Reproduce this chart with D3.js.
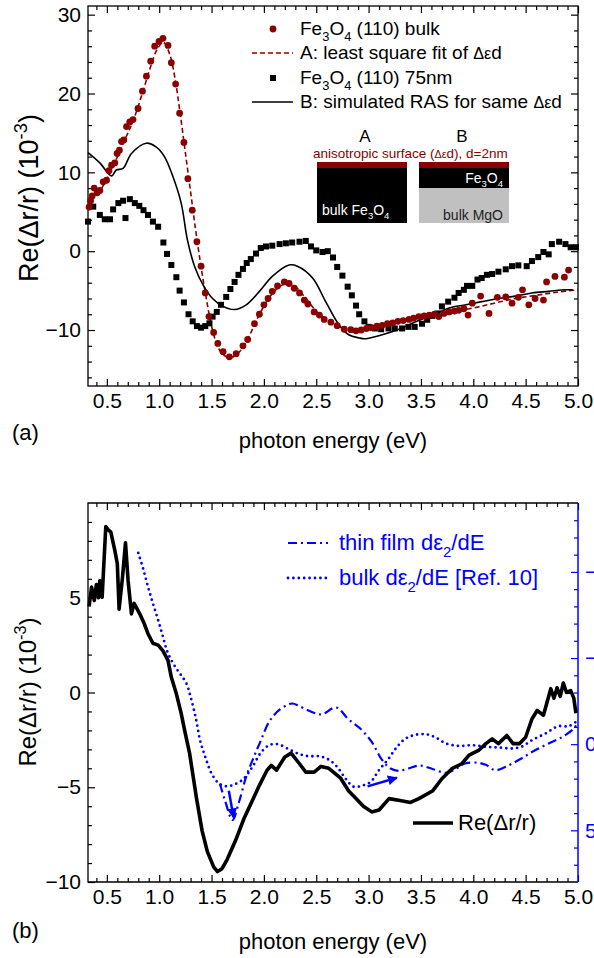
<!DOCTYPE html>
<html>
<head>
<meta charset="utf-8">
<script src="https://cdn.jsdelivr.net/npm/d3@7"></script>
<style>
body { margin: 0; background: #fff; }
svg { display: block; font-family: "Liberation Sans", Arial, sans-serif; }
</style>
</head>
<body>
<script>
// ---- panel (a) data: photon energy (eV) / Re(dr/r) (1e-3)
const bulkE = [0.33,0.345,0.36,0.379,0.408,0.433,0.465,0.497,0.52,0.545,0.576,0.598,0.62,0.64,0.662,0.688,0.719,0.75,0.798,0.84,0.878,0.919,0.957,0.998,1.036,1.084,1.116,1.157,1.195,1.236,1.274,1.316,1.36,1.40,1.44,1.475,1.52,1.56,1.61,1.67,1.735,1.80,1.845,1.91,1.957,2.0,2.04,2.08,2.13,2.195,2.24,2.29,2.34,2.386,2.42,2.48,2.53,2.576,2.64,2.70,2.767,2.83,2.88,2.93,2.98,3.03,3.08,3.13,3.18,3.23,3.28,3.33,3.386,3.43,3.48,3.53,3.58,3.63,3.67,3.72,3.77,3.82,3.86,3.91,3.95,3.99,4.07,4.15,4.23,4.31,4.37,4.43,4.47,4.53,4.59,4.67,4.70,4.78,4.87,4.91];
const bulkR = [5.6,6.4,7.0,8.0,7.4,7.7,8.8,9.0,10.2,10.9,11.2,12.4,12.8,13.9,14.1,15.8,16.4,16.7,18.1,20.3,22.2,24.1,26.0,26.6,27.0,26.1,23.9,21.2,17.5,13.8,9.2,5.2,1.2,-1.9,-5.3,-8.3,-10.3,-11.7,-12.75,-13.4,-13.0,-12.0,-11.2,-9.2,-8.0,-6.8,-6.0,-5.1,-4.4,-3.9,-4.1,-4.7,-5.3,-6.2,-6.7,-7.7,-8.1,-8.65,-9.0,-9.45,-9.9,-9.95,-10.1,-10.0,-9.8,-9.7,-9.5,-9.4,-9.2,-9.1,-8.9,-8.8,-8.65,-8.5,-8.3,-8.2,-8.1,-8.0,-8.3,-7.9,-7.7,-7.6,-7.5,-7.3,-8.1,-6.6,-5.7,-7.9,-5.85,-5.8,-6.6,-5.85,-4.9,-6.8,-6.0,-6.2,-3.9,-3.2,-3.3,-2.4];

const fitE = [0.35,0.45,0.55,0.65,0.75,0.85,0.92,0.98,1.04,1.1,1.15,1.2,1.25,1.3,1.35,1.4,1.45,1.5,1.55,1.6,1.67,1.75,1.85,1.95,2.05,2.15,2.22,2.3,2.4,2.5,2.6,2.7,2.8,2.9,3.0,3.2,3.4,3.6,3.8,4.0,4.2,4.4,4.6,4.8,5.0];
const fitR = [6.5,8.0,10.5,13.5,16.5,20.5,23.5,25.6,26.5,25.0,22.0,17.5,12.5,7.5,2.5,-2.0,-6.0,-9.5,-11.8,-13.0,-13.5,-13.0,-11.0,-8.2,-5.9,-4.5,-4.1,-4.5,-6.0,-7.6,-8.7,-9.5,-10.1,-10.3,-10.0,-9.3,-8.7,-8.2,-7.7,-7.2,-6.6,-6.0,-5.6,-5.2,-4.9];

const filmE = [0.32,0.37,0.433,0.48,0.53,0.56,0.61,0.655,0.678,0.72,0.767,0.81,0.85,0.893,0.94,0.99,1.04,1.075,1.116,1.164,1.195,1.236,1.28,1.32,1.36,1.40,1.44,1.48,1.51,1.55,1.59,1.64,1.68,1.72,1.757,1.80,1.836,1.875,1.925,1.97,2.02,2.08,2.15,2.21,2.27,2.34,2.40,2.45,2.50,2.56,2.61,2.66,2.70,2.75,2.80,2.84,2.88,2.91,2.96,3.0,3.06,3.12,3.19,3.25,3.32,3.38,3.44,3.51,3.56,3.61,3.66,3.70,3.76,3.82,3.86,3.91,3.94,3.99,4.04,4.08,4.13,4.18,4.24,4.31,4.37,4.43,4.51,4.56,4.62,4.67,4.72,4.75,4.82,4.88,4.93,4.98];
const filmR = [3.75,5.65,4.6,4.05,4.05,5.3,6.1,6.4,4.2,6.6,6.1,5.75,5.2,4.6,3.75,3.1,1.1,-0.35,-1.75,-3.3,-5.0,-6.5,-8.0,-8.9,-9.5,-9.7,-9.5,-9.15,-8.3,-7.7,-6.8,-5.8,-4.8,-3.9,-3.0,-2.25,-1.5,-1.0,-0.3,0.4,0.6,0.7,0.9,1.0,1.1,1.2,1.3,0.6,0.1,-0.1,0.0,-0.8,-2.0,-3.1,-4.5,-5.6,-6.9,-8.0,-8.9,-9.6,-9.8,-9.9,-9.8,-9.8,-9.8,-9.6,-9.6,-9.2,-8.7,-8.2,-7.9,-7.0,-6.4,-5.9,-5.3,-4.9,-4.4,-4.4,-3.6,-3.4,-3.0,-2.9,-2.6,-2.3,-1.9,-1.8,-1.9,-1.25,-0.75,-0.1,-0.4,0.9,1.2,0.9,0.5,0.5];

const simE = [0.32,0.433,0.545,0.59,0.655,0.735,0.878,0.973,1.05,1.13,1.21,1.27,1.34,1.42,1.51,1.61,1.72,1.83,1.957,2.08,2.24,2.32,2.465,2.59,2.72,2.81,2.91,2.97,3.13,3.29,3.45,3.61,3.77,3.93,4.08,4.24,4.40,4.56,4.72,4.88,4.95];
const simR = [12.5,11.2,9.55,10.3,10.5,12.4,13.7,13.2,12.0,9.5,6.1,1.4,-2.0,-4.3,-6.0,-7.0,-7.4,-6.8,-5.1,-3.2,-1.75,-1.9,-3.4,-6.4,-9.4,-10.6,-11.0,-11.1,-10.6,-9.9,-8.95,-8.1,-7.2,-6.8,-6.4,-6.0,-5.7,-5.3,-5.1,-4.9,-4.9];

// ---- panel (b) data
const rasE = [0.33,0.354,0.38,0.40,0.42,0.433,0.455,0.49,0.51,0.538,0.576,0.60,0.617,0.65,0.678,0.703,0.735,0.76,0.79,0.814,0.86,0.893,0.94,0.99,1.036,1.084,1.116,1.164,1.21,1.243,1.29,1.354,1.41,1.46,1.52,1.557,1.6,1.65,1.73,1.81,1.89,1.957,2.03,2.07,2.12,2.2,2.26,2.34,2.40,2.48,2.545,2.62,2.73,2.81,2.88,2.95,3.03,3.1,3.195,3.3,3.4,3.48,3.61,3.70,3.80,3.89,3.96,4.05,4.12,4.18,4.24,4.32,4.38,4.44,4.50,4.56,4.61,4.67,4.74,4.77,4.80,4.83,4.86,4.89,4.93,4.96,4.98];
const rasR = [4.54,5.56,4.85,5.7,5.0,5.9,5.03,8.76,8.6,8.46,7.5,6.8,4.4,6.1,7.9,5.9,4.15,4.7,4.4,4.15,3.6,3.1,2.6,2.5,2.2,1.7,0.8,-0.07,-1.1,-2.0,-3.2,-5.5,-7.3,-8.4,-9.2,-9.45,-9.3,-8.8,-7.8,-6.65,-5.7,-4.9,-4.1,-3.85,-4.1,-3.4,-3.2,-3.76,-4.2,-4.2,-3.9,-4.0,-4.5,-5.2,-5.6,-6.0,-6.3,-6.2,-5.6,-5.7,-5.8,-5.6,-5.2,-4.55,-4.0,-3.76,-3.3,-3.06,-2.7,-2.45,-2.7,-2.27,-2.7,-2.7,-2.36,-1.4,-0.95,-1.2,0.2,-0.3,0.25,-0.2,0.5,0.0,0.1,-0.3,-1.1];

const bulkDE = [0.80,0.846,0.893,0.94,0.99,1.036,1.078,1.116,1.164,1.21,1.26,1.30,1.35,1.39,1.44,1.5,1.57,1.64,1.70,1.80,1.89,1.97,2.05,2.13,2.24,2.34,2.43,2.53,2.62,2.70,2.78,2.86,2.94,3.02,3.1,3.18,3.26,3.34,3.43,3.545,3.64,3.74,3.86,3.99,4.12,4.24,4.37,4.46,4.56,4.69,4.81,4.91,4.98];
const bulkDV = [-11.1,-10.2,-9.13,-8.17,-7.2,-6.23,-5.36,-4.88,-4.39,-4.0,-3.52,-2.75,-1.5,-0.23,0.74,1.7,2.28,2.44,2.38,2.05,1.32,0.5,0.06,0.0,0.3,0.58,0.7,0.7,0.9,1.32,2.0,2.48,2.4,2.19,1.5,0.93,0.25,-0.27,-0.52,-0.58,-0.39,-0.04,0.1,0.06,0.15,0.19,0.25,0.15,-0.23,-0.62,-1.04,-1.04,-1.3];

const thinDE = [1.58,1.63,1.70,1.76,1.83,1.90,1.97,2.05,2.15,2.27,2.34,2.5,2.56,2.69,2.81,2.92,3.03,3.13,3.21,3.29,3.38,3.49,3.61,3.74,3.84,3.92,4.05,4.12,4.21,4.34,4.46,4.59,4.72,4.85,4.96,5.0];
const thinDV = [2.3,3.3,4.4,3.4,1.9,0.8,-0.2,-1.3,-2.0,-2.36,-2.2,-1.78,-1.74,-2.13,-1.43,-0.91,-0.13,0.93,1.41,1.55,1.41,1.24,1.44,1.66,1.41,1.12,1.08,1.2,1.51,1.22,0.83,0.35,-0.04,-0.42,-0.91,-1.3];

// arrows [E0, v0, E1, v1] on the right (d eps2/dE) axis
const arrowsB = [[1.665, 2.7, 1.71, 4.25], [2.99, 2.45, 3.27, 1.95]];

// ticks
const eMajor = [0.5,1.0,1.5,2.0,2.5,3.0,3.5,4.0,4.5,5.0];
const eMinor = d3.range(0.4, 5.0, 0.1).filter(v => Math.abs(v * 2 - Math.round(v * 2)) > 0.01);
const aMajor = [-10, 0, 10, 20, 30];
const aMinor = [-16,-14,-12,-8,-6,-4,-2,2,4,6,8,12,14,16,18,22,24,26,28];
const bMajor = [-10, -5, 0, 5];
const bMinor = [-9,-8,-7,-6,-4,-3,-2,-1,1,2,3,4,6,7,8,9];
const rMajor = [-10, -5, 0, 5];
const rMinor = [-13,-12,-11,-9,-8,-7,-6,-4,-3,-2,-1,1,2,3,4,6,7];

const W = 594, H = 958;
const left = 88, right = 578;
const darkRed = "#8b0000";
const blue = "#0000ff";
const fontTick = 21;

const svg = d3.select("body").append("svg").attr("width", W).attr("height", H);

const x = d3.scaleLinear().domain([0.32, 5.0]).range([left, right]);
const yA = d3.scaleLinear().domain([-17.1, 31.1]).range([386, 6]);
const yB = d3.scaleLinear().domain([-10, 10]).range([882, 503]);
const yR = d3.scaleLinear().domain([-14, 8]).range([503, 882]);

function rich(sel, parts, size) {
    let shift = 0;
    parts.forEach(p => {
        const kind = p[1];
        const target = kind === "sub" ? size * 0.3 : kind === "sup" ? -size * 0.42 : 0;
        const t = sel.append("tspan").text(p[0]).attr("dy", target - shift);
        shift = target;
        if (kind) t.attr("font-size", size * 0.68);
        if (p[2]) t.attr("font-size", size * p[2]);
    });
}

function ticks(transform, gen, scale, major, minor, fmt, color) {
    const g1 = svg.append("g").attr("transform", transform)
        .call(gen(scale).tickValues(major).tickSize(-7).tickPadding(7).tickFormat(fmt || (() => "")));
    const g2 = svg.append("g").attr("transform", transform)
        .call(gen(scale).tickValues(minor).tickSize(-4).tickFormat(() => ""));
    [g1, g2].forEach(g => {
        g.attr("font-family", null).attr("font-size", fontTick);
        g.select(".domain").remove();
        g.selectAll("line").attr("stroke", color).attr("stroke-width", 1.2);
        g.selectAll("text").attr("fill", color);
    });
    return g1;
}

// ================= panel (a)
ticks("translate(0,386)", d3.axisBottom, x, eMajor, eMinor, d3.format(".1f"), "#000");
ticks("translate(0,6)", d3.axisTop, x, eMajor, eMinor, null, "#000");
ticks(`translate(${left},0)`, d3.axisLeft, yA, aMajor, aMinor, d3.format("d"), "#000");
ticks(`translate(${right},0)`, d3.axisRight, yA, aMajor, aMinor, null, "#000");
svg.append("rect").attr("x", left).attr("y", 6).attr("width", right - left).attr("height", 380)
    .attr("fill", "none").attr("stroke", "#000").attr("stroke-width", 1.3);

const lineA = d3.line().x(d => x(d[0])).y(d => yA(d[1])).curve(d3.curveCatmullRom);

svg.append("path").datum(fitE.map((e, i) => [e, fitR[i]]))
    .attr("d", lineA).attr("fill", "none").attr("stroke", darkRed)
    .attr("stroke-width", 1.6).attr("stroke-dasharray", "5,3");

svg.append("path").datum(simE.map((e, i) => [e, simR[i]]))
    .attr("d", lineA).attr("fill", "none").attr("stroke", "#000").attr("stroke-width", 1.6);

svg.append("g").selectAll("rect").data(filmE.map((e, i) => [e, filmR[i]]))
    .enter().append("rect")
    .attr("x", d => x(d[0]) - 3).attr("y", d => yA(d[1]) - 3)
    .attr("width", 6).attr("height", 6).attr("fill", "#000");

svg.append("g").selectAll("circle").data(bulkE.map((e, i) => [e, bulkR[i]]))
    .enter().append("circle")
    .attr("cx", d => x(d[0])).attr("cy", d => yA(d[1])).attr("r", 3.4).attr("fill", darkRed);

// legend (a)
const legSize = 19;
const legA = svg.append("g").attr("font-size", legSize);
const rowsA = [29, 53, 78, 102];
legA.append("circle").attr("cx", 273).attr("cy", rowsA[0]).attr("r", 3.4).attr("fill", darkRed);
legA.append("line").attr("x1", 252).attr("x2", 293).attr("y1", rowsA[1]).attr("y2", rowsA[1])
    .attr("stroke", darkRed).attr("stroke-width", 1.6).attr("stroke-dasharray", "5,3");
legA.append("rect").attr("x", 270).attr("y", rowsA[2] - 3).attr("width", 6).attr("height", 6);
legA.append("line").attr("x1", 252).attr("x2", 293).attr("y1", rowsA[3]).attr("y2", rowsA[3])
    .attr("stroke", "#000").attr("stroke-width", 1.6);
const legTexts = [
    [["Fe"], ["3", "sub"], ["O"], ["4", "sub"], [" (110) bulk"]],
    [["A: least square fit of "], ["\u0394\u03b5", null, 0.85], ["d"]],
    [["Fe"], ["3", "sub"], ["O"], ["4", "sub"], [" (110) 75nm"]],
    [["B: simulated RAS for same "], ["\u0394\u03b5", null, 0.85], ["d"]]
];
legTexts.forEach((parts, i) => {
    rich(legA.append("text").attr("x", 300).attr("y", rowsA[i] + 6), parts, legSize);
});

// inset sketch
const inset = svg.append("g");
inset.append("text").attr("x", 365).attr("y", 142).attr("text-anchor", "middle").attr("font-size", 17).text("A");
inset.append("text").attr("x", 462).attr("y", 142).attr("text-anchor", "middle").attr("font-size", 17).text("B");
rich(inset.append("text").attr("x", 313).attr("y", 158).attr("font-size", 13.5).attr("fill", darkRed),
    [["anisotropic surface ("], ["\u0394\u03b5", null, 0.8], ["d), d=2nm"]], 13.5);
inset.append("rect").attr("x", 317).attr("y", 162).attr("width", 90).attr("height", 61).attr("fill", "#000");
inset.append("rect").attr("x", 317).attr("y", 162).attr("width", 90).attr("height", 6).attr("fill", darkRed);
inset.append("rect").attr("x", 419).attr("y", 162).attr("width", 90).attr("height", 61).attr("fill", "#c0c0c0");
inset.append("rect").attr("x", 419).attr("y", 162).attr("width", 90).attr("height", 26).attr("fill", "#000");
inset.append("rect").attr("x", 419).attr("y", 162).attr("width", 90).attr("height", 6).attr("fill", darkRed);
rich(inset.append("text").attr("x", 322).attr("y", 215).attr("font-size", 14).attr("fill", "#fff"),
    [["bulk Fe"], ["3", "sub"], ["O"], ["4", "sub"]], 14);
rich(inset.append("text").attr("x", 503).attr("y", 183).attr("font-size", 14).attr("fill", "#fff").attr("text-anchor", "end"),
    [["Fe"], ["3", "sub"], ["O"], ["4", "sub"]], 14);
inset.append("text").attr("x", 503).attr("y", 220).attr("font-size", 14).attr("fill", "#222")
    .attr("text-anchor", "end").text("bulk MgO");

// titles (a)
const titleA = 27;
rich(svg.append("text").attr("transform", "translate(38,198) rotate(-90)").attr("text-anchor", "middle").attr("font-size", titleA),
    [["Re(\u0394r/r) (10"], ["-3", "sup"], [")"]], titleA);
svg.append("text").attr("x", 333).attr("y", 448).attr("text-anchor", "middle").attr("font-size", 22).text("photon energy (eV)");
svg.append("text").attr("x", 12).attr("y", 440).attr("font-size", 22).text("(a)");

// ================= panel (b)
ticks("translate(0,882)", d3.axisBottom, x, eMajor, eMinor, d3.format(".1f"), "#000");
ticks("translate(0,503)", d3.axisTop, x, eMajor, eMinor, null, "#000");
ticks(`translate(${left},0)`, d3.axisLeft, yB, bMajor, bMinor, d3.format("d"), "#000");
ticks(`translate(${right},0)`, d3.axisRight, yR, rMajor, rMinor, d3.format("d"), blue);
svg.append("path").attr("d", `M${right},503H${left}V882H${right}`)
    .attr("fill", "none").attr("stroke", "#000").attr("stroke-width", 1.3);
svg.append("line").attr("x1", right).attr("x2", right).attr("y1", 503).attr("y2", 882)
    .attr("stroke", blue).attr("stroke-width", 1.5);

const lineL = d3.line().x(d => x(d[0])).y(d => yB(d[1]));
const lineR = d3.line().x(d => x(d[0])).y(d => yR(d[1])).curve(d3.curveCatmullRom);

svg.append("path").datum(bulkDE.map((e, i) => [e, bulkDV[i]]))
    .attr("d", lineR).attr("fill", "none").attr("stroke", blue).attr("stroke-width", 2.8)
    .attr("stroke-linecap", "round").attr("stroke-dasharray", "0,5.4");
svg.append("path").datum(thinDE.map((e, i) => [e, thinDV[i]]))
    .attr("d", lineR).attr("fill", "none").attr("stroke", blue).attr("stroke-width", 2.2)
    .attr("stroke-dasharray", "9,4,2,4");
svg.append("path").datum(rasE.map((e, i) => [e, rasR[i]]))
    .attr("d", lineL).attr("fill", "none").attr("stroke", "#000").attr("stroke-width", 3.6)
    .attr("stroke-linejoin", "round");

svg.append("defs").append("marker").attr("id", "head").attr("viewBox", "0 0 10 10")
    .attr("refX", 9).attr("refY", 5).attr("markerWidth", 4).attr("markerHeight", 4)
    .attr("orient", "auto").attr("markerUnits", "strokeWidth")
    .append("path").attr("d", "M0,0L10,5L0,10Z").attr("fill", blue);
svg.append("g").selectAll("line").data(arrowsB).enter().append("line")
    .attr("x1", d => x(d[0])).attr("y1", d => yR(d[1]))
    .attr("x2", d => x(d[2])).attr("y2", d => yR(d[3]))
    .attr("stroke", blue).attr("stroke-width", 2.5).attr("marker-end", "url(#head)");

// legend (b)
const legB = svg.append("g").attr("font-size", 22).attr("fill", blue);
legB.append("line").attr("x1", 288).attr("x2", 328).attr("y1", 543).attr("y2", 543)
    .attr("stroke", blue).attr("stroke-width", 2.2).attr("stroke-dasharray", "9,4,2,4");
legB.append("line").attr("x1", 288).attr("x2", 328).attr("y1", 578).attr("y2", 578)
    .attr("stroke", blue).attr("stroke-width", 2.8).attr("stroke-linecap", "round").attr("stroke-dasharray", "0,5.4");
rich(legB.append("text").attr("x", 339).attr("y", 550),
    [["thin film d\u03b5"], ["2", "sub"], ["/dE"]], 22);
rich(legB.append("text").attr("x", 339).attr("y", 585),
    [["bulk d\u03b5"], ["2", "sub"], ["/dE [Ref. 10]"]], 22);
svg.append("line").attr("x1", 413).attr("x2", 453).attr("y1", 823).attr("y2", 823)
    .attr("stroke", "#000").attr("stroke-width", 3.6);
svg.append("text").attr("x", 458).attr("y", 830).attr("font-size", 22).text("Re(\u0394r/r)");

// titles (b)
const titleB = 24;
rich(svg.append("text").attr("transform", "translate(36,692) rotate(-90)").attr("text-anchor", "middle").attr("font-size", titleB),
    [["Re(\u0394r/r) (10"], ["-3", "sup"], [")"]], titleB);
svg.append("text").attr("x", 333).attr("y", 949).attr("text-anchor", "middle").attr("font-size", 22).text("photon energy (eV)");
svg.append("text").attr("x", 12).attr("y", 938).attr("font-size", 22).text("(b)");
</script>
</body>
</html>
